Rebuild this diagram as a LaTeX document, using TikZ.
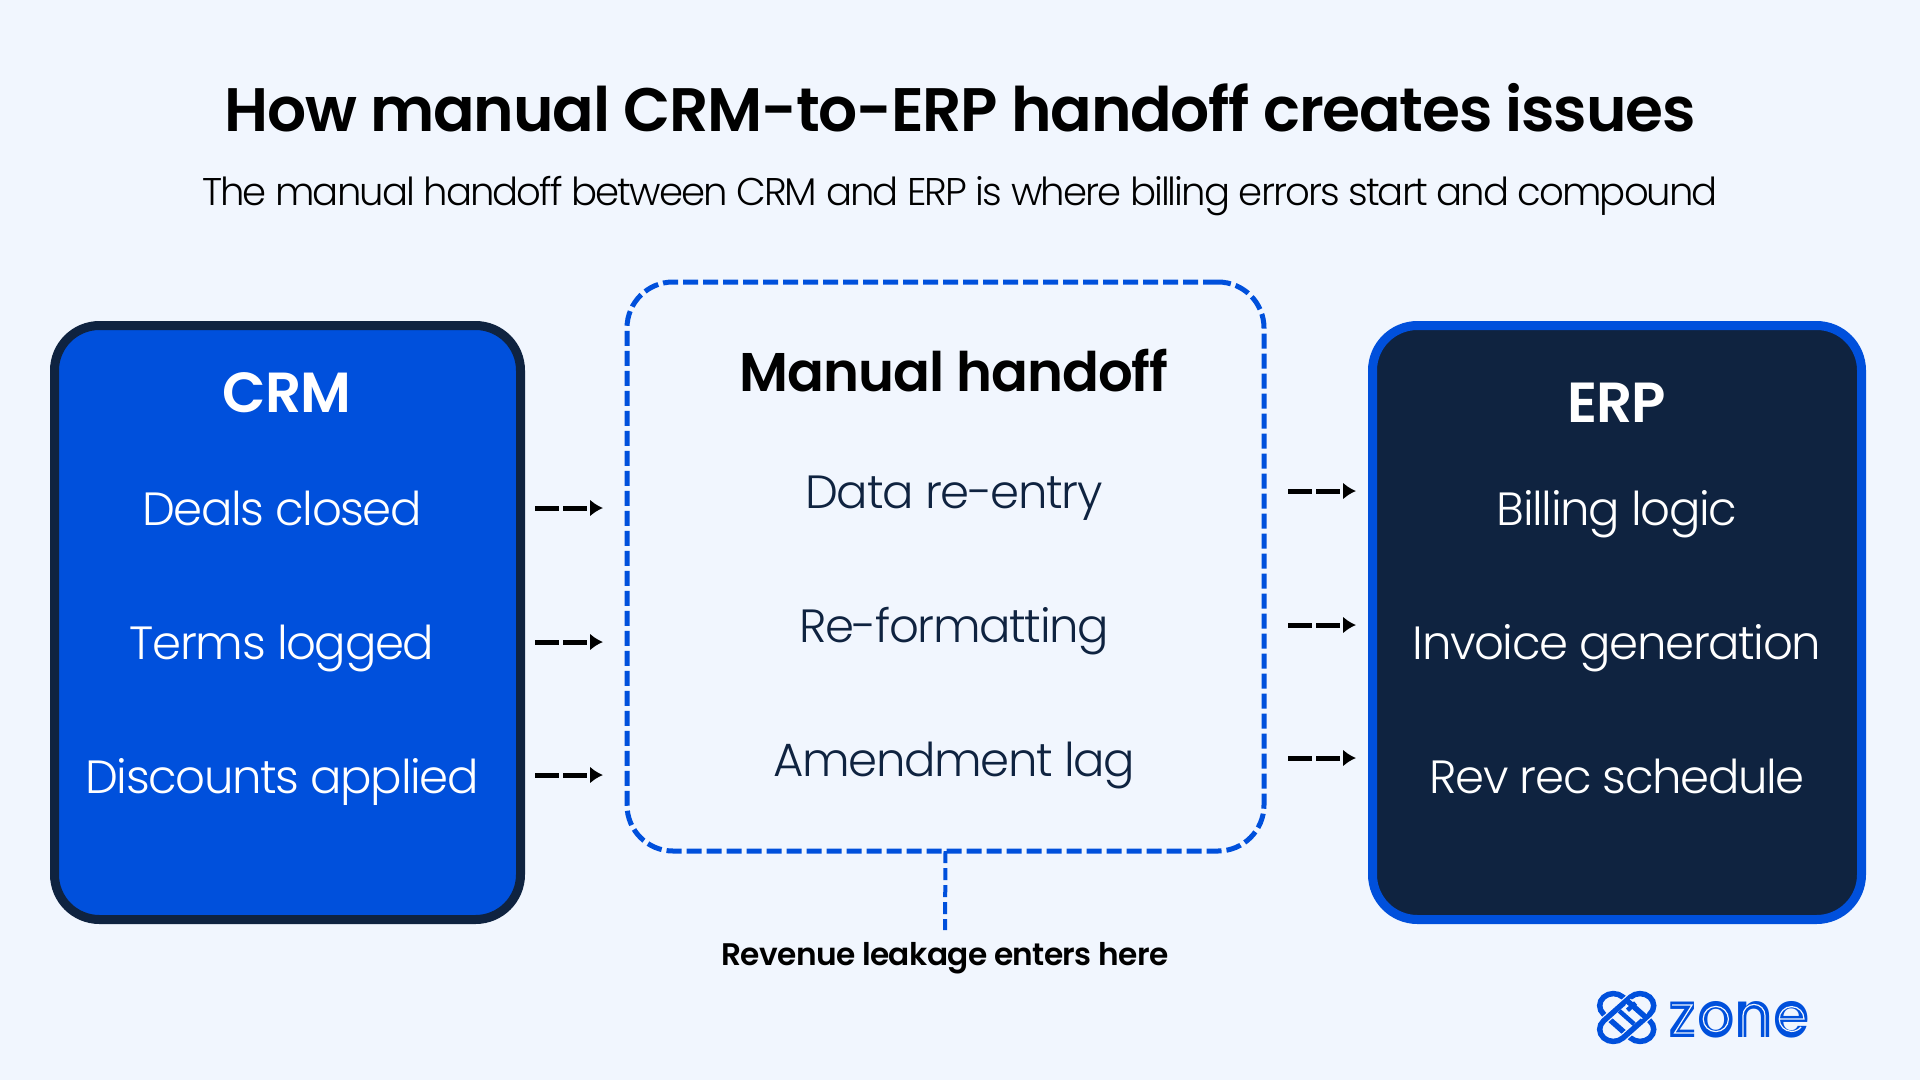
\documentclass[tikz,border=0pt]{standalone}
\usepackage{fontspec}
\setmainfont{Poppins}
\newfontfamily\lightface[LetterSpace=-3]{Poppins Light}
\newfontfamily\subface[LetterSpace=-5]{Poppins Light}
\newfontfamily\semiface[LetterSpace=-2]{Poppins SemiBold}
\newfontfamily\logoface[FakeStretch=0.92]{Poppins SemiBold}
\usetikzlibrary{arrows.meta}
\definecolor{pagebg}{HTML}{F1F6FE}
\definecolor{zoneblue}{HTML}{0050DC}
\definecolor{zonenavy}{HTML}{0F2340}
\tikzset{
  panel/.style={rounded corners=45,line width=9,outer sep=0,inner sep=0,minimum height=594},
  gapbox/.style={draw=zoneblue,rounded corners=46,line width=5,dash pattern=on 15 off 5,outer sep=0,inner sep=0,minimum width=637,minimum height=569},
  head/.style={font=\semiface\fontsize{56.5}{56}\selectfont,anchor=base},
  item/.style={font=\lightface\fontsize{46.6}{47}\selectfont,anchor=base},
  flow/.style={-{Latex[width=17,length=13]},black,line width=5,dash pattern=on 24 off 4},
  halo/.style={pagebg,line width=8},
  stripe/.style={pagebg,line width=1.2},
}
\newcommand{\knotloop}{(-13,-18) arc[start angle=180,end angle=360,radius=13] -- (13,18) arc[start angle=0,end angle=180,radius=13] -- cycle}
\begin{document}
\begin{tikzpicture}[x=1pt,y=-1pt]
    \useasboundingbox[fill=pagebg] (0,0) rectangle (1920,1080);
    \path
    (960,131) node[anchor=base,font=\semiface\fontsize{61.4}{62}\selectfont,black](TITLE) {How manual CRM-to-ERP handoff creates issues}
    (960,205) node[anchor=base,font=\subface\fontsize{38.6}{39}\selectfont,black](SUB) {The manual handoff between CRM and ERP is where billing errors start and compound}

    (287.5,622.5) node[panel,minimum width=466,draw=zonenavy,fill=zoneblue](CRM) {}
    (1617,622.5) node[panel,minimum width=489,draw=zoneblue,fill=zonenavy](ERP) {}
    (945.5,566.5) node[gapbox](GAP) {}

    (287,412) node[head,white](CRMH) {CRM}
    (282,525) node[item,white](CA) {Deals closed}
    (282,659) node[item,white](CB) {Terms logged}
    (282,793) node[item,white](CC) {Discounts applied}

    (954,391) node[head,font=\semiface\fontsize{54.5}{55}\selectfont,black](GAPH) {Manual handoff}
    (954,508) node[item,zonenavy](GA) {Data re-entry}
    (954,642) node[item,zonenavy](GB) {Re-formatting}
    (954,776) node[item,zonenavy](GC) {Amendment lag}

    (1617,422) node[head,white](ERPH) {ERP}
    (1617,525) node[item,white](EA) {Billing logic}
    (1617,659) node[item,white](EB) {Invoice generation}
    (1617,793) node[item,white](EC) {Rev rec schedule}

    (945,965) node[anchor=base,font=\semiface\fontsize{31.2}{31}\selectfont,black](LEAK) {Revenue leakage enters here};

    \coordinate (LA1) at (535,508); \coordinate (LA2) at (603,508);
    \coordinate (LB1) at (535,642); \coordinate (LB2) at (603,642);
    \coordinate (LC1) at (535,775); \coordinate (LC2) at (603,775);
    \coordinate (RA1) at (1288,491); \coordinate (RA2) at (1356,491);
    \coordinate (RB1) at (1288,625); \coordinate (RB2) at (1356,625);
    \coordinate (RC1) at (1288,758); \coordinate (RC2) at (1356,758);
    \coordinate (LEAKTOP) at (945,930);

    \path[]
    (LA1) [flow] edge (LA2)
    (LB1) [flow] edge (LB2)
    (LC1) [flow] edge (LC2)

    (RA1) [flow] edge (RA2)
    (RB1) [flow] edge (RB2)
    (RC1) [flow] edge (RC2);

    \draw[zoneblue,line width=4,dash pattern=on 12 off 5] (GAP.south) -- (LEAKTOP);

    % logo
    \begin{scope}[shift={(1626.7,1017.5)},xscale=1.05,yscale=.93,zoneblue,line width=5.5]
      \draw[rotate=45] \knotloop;
      \draw[rotate=-45,halo] \knotloop;
      \draw[rotate=-45] \knotloop;
      \draw[rotate=45,halo] (13,-11) -- (13,11);
      \draw[rotate=45] (13,-13) -- (13,13);
      \draw[rotate=45,line width=4.5] (0,-10) -- (0,10);
      \draw[rotate=-45,line width=4.5] (-5,-17) -- (-5,-6);
    \end{scope}
    \path (1739.5,1037) node[anchor=base,font=\logoface\fontsize{64}{64}\selectfont,zoneblue](LOGO) {zone};
    \draw[stripe] (1672,1005) -- (1692,1005) -- (1674.5,1033) -- (1695,1033);
    \draw[stripe] (1715.8,1019) circle (12.6);
    \draw[stripe] (1743,1037) -- (1743,1015.4) arc[start angle=180,end angle=360,radius=11] -- (1765,1037);
    \draw[stripe] (1780,1019) -- (1804,1019) arc[start angle=360,end angle=40,radius=12.4];
\end{tikzpicture}
\end{document}
